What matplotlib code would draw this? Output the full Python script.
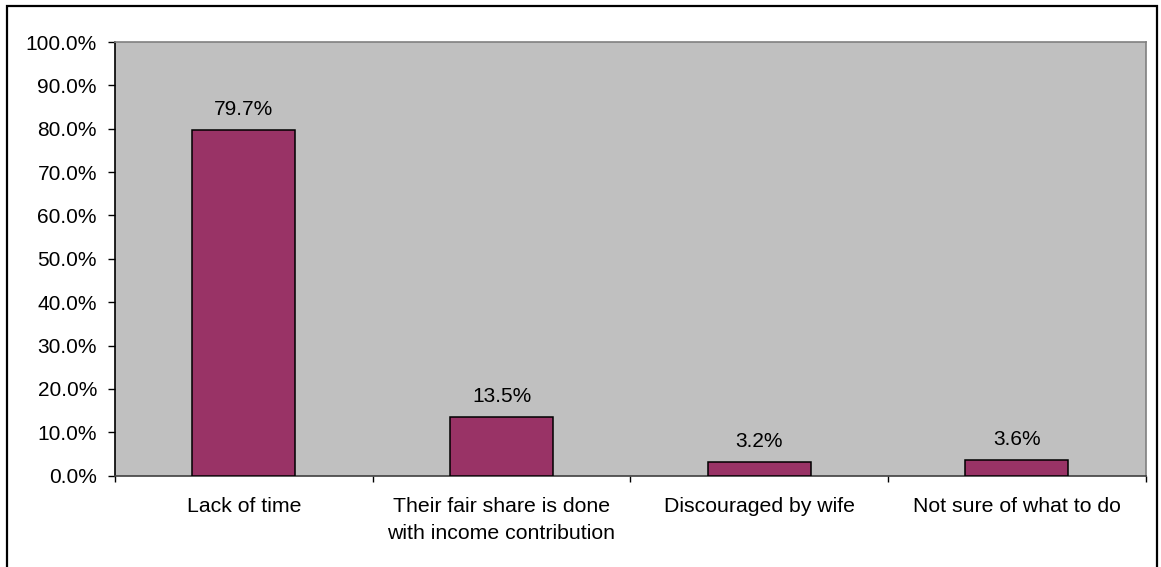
#!/usr/bin/env python
import numpy as np
import matplotlib
matplotlib.use('Agg')
import matplotlib.pyplot as plt
from matplotlib.patches import Rectangle
from matplotlib.ticker import FuncFormatter, FixedLocator

plt.rcParams['font.family'] = ['Liberation Sans', 'DejaVu Sans']

categories = ['Lack of time',
              'Their fair share is done\nwith income contribution',
              'Discouraged by wife',
              'Not sure of what to do']
values = [0.797, 0.135, 0.032, 0.036]
value_labels = ['79.7%', '13.5%', '3.2%', '3.6%']

BAR_COLOR = '#993366'
BG_COLOR = '#C0C0C0'


def draw():
    fig = plt.figure(figsize=(11.61, 5.67), dpi=100)
    ax = fig.add_axes([115 / 1161, 1 - 475.7 / 567,
                       (1145.7 - 115) / 1161, (475.7 - 42) / 567])
    ax.set_facecolor(BG_COLOR)

    ind = np.arange(len(categories))
    rects = ax.bar(ind, values, 0.4, color=BAR_COLOR,
                   edgecolor='black', linewidth=1.1, zorder=3)

    for rect, lab in zip(rects, value_labels):
        ax.annotate(lab, (rect.get_x() + rect.get_width() / 2, rect.get_height()),
                    xytext=(0, 8), textcoords='offset points',
                    ha='center', va='bottom', fontsize=15)

    ax.set_xlim(-0.5, len(categories) - 0.5)
    ax.set_ylim(0, 1.0)
    ax.set_yticks(np.arange(0, 1.01, 0.1))
    ax.yaxis.set_major_formatter(FuncFormatter(lambda v, p: '%.1f%%' % (v * 100)))
    ax.tick_params(axis='y', direction='out', length=5, width=1,
                   labelsize=15, pad=8)

    ax.set_xticks(ind)
    ax.set_xticklabels(categories, fontsize=15.3, linespacing=1.55)
    ax.tick_params(axis='x', which='major', length=0, pad=15)
    ax.xaxis.set_minor_locator(FixedLocator(np.arange(-0.5, len(categories), 1.0)))
    ax.tick_params(axis='x', which='minor', direction='out', length=4.5, width=1)

    ax.spines['left'].set_color('black')
    ax.spines['bottom'].set_color('#404040')
    ax.spines['top'].set_color('#808080')
    ax.spines['right'].set_color('#808080')
    for sp in ax.spines.values():
        sp.set_linewidth(1.2)

    # outer chart border
    fig.patches.append(Rectangle((7 / 1161, -0.05), 1150 / 1161, 1.05 - 6 / 567,
                                 transform=fig.transFigure, fill=False,
                                 edgecolor='black', linewidth=1.6))
    return fig


def main():
    fig = draw()
    fig.savefig('out.png', dpi=100)


if __name__ == '__main__':
    main()
